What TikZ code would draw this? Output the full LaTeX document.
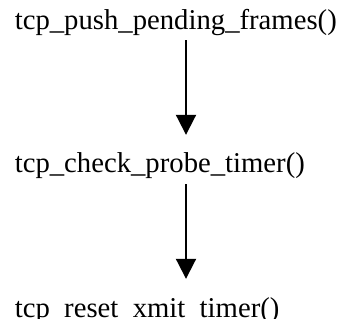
\documentclass[tikz,border=0pt]{standalone}
\usepackage{fontspec}
\setmainfont{Liberation Serif}
\usetikzlibrary{arrows.meta}
\newcommand\callfont{\fontsize{28.7}{34}\selectfont}

\begin{document}
\begin{tikzpicture}[x=1pt,y=-1pt,
 call/.style={anchor=base west, inner sep=0pt, text height=20pt, text depth=6pt, font=\callfont},
 flow/.style={-{Triangle[length=20pt,width=20pt]}, line width=2pt}
]

\def\col{186}
\useasboundingbox (0,0) rectangle (343,324);
% the bottom line is cut at its baseline
\path [clip] (0,0) rectangle (343,318);

% function calls, top to bottom
\node (push) at (14.6,30) [call] {tcp\_push\_pending\_frames()};
\node (probe) at (14.6,172) [call] {tcp\_check\_probe\_timer()};
\node (reset) at (14.6,317.5) [call] {tcp\_reset\_xmit\_timer()};

% call order
\draw[flow, shorten <=4pt, shorten >=17pt] (push.south -| \col,0) -- (probe.north -| \col,0);
\draw[flow, shorten <=6pt, shorten >=18.5pt] (probe.south -| \col,0) -- (reset.north -| \col,0);

\end{tikzpicture}
\end{document}
